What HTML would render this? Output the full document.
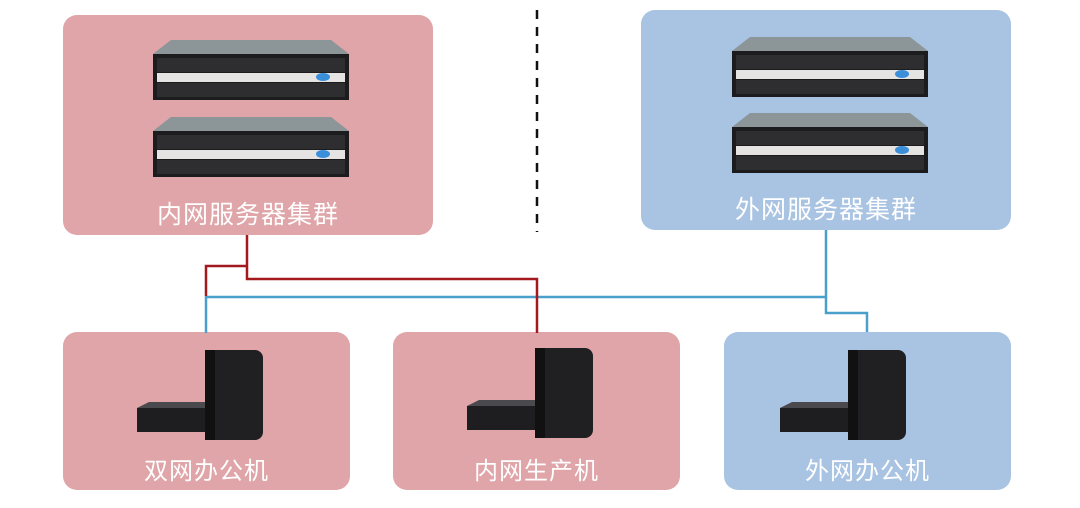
<!DOCTYPE html>
<html><head><meta charset="utf-8"><style>
body{margin:0;width:1080px;height:508px;background:#fff;position:relative;overflow:hidden;font-family:"Liberation Sans","Noto Sans CJK SC",sans-serif}
.b{position:absolute;border-radius:14px}
.p{background:#dfa5a8}.u{background:#a9c3e2}
.t{position:absolute;left:0;right:0;text-align:center;color:#fff;font-size:24px;letter-spacing:1px}
svg{position:absolute;left:0;top:0}
</style></head><body>
<div class="b p" style="left:63px;top:15px;width:370px;height:220px"><div class="t" style="top:180px;font-size:25px">内网服务器集群</div></div>
<div class="b u" style="left:641px;top:10px;width:370px;height:220px"><div class="t" style="top:180px;font-size:25px">外网服务器集群</div></div>
<div class="b p" style="left:63px;top:332px;width:287px;height:158px"><div class="t" style="top:119px">双网办公机</div></div>
<div class="b p" style="left:393px;top:332px;width:287px;height:158px"><div class="t" style="top:119px">内网生产机</div></div>
<div class="b u" style="left:724px;top:332px;width:287px;height:158px"><div class="t" style="top:119px">外网办公机</div></div>
<svg width="1080" height="508">
<defs>
<g id="srv">
<polygon points="18,0 178,0 196,14 0,14" fill="#8c9598"/>
<rect x="0" y="14" width="196" height="46" fill="#1c1c1e"/>
<rect x="4" y="18" width="188" height="14" fill="#2e2e30"/>
<rect x="4" y="33" width="188" height="9" fill="#e6e3e3"/>
<rect x="4" y="43" width="188" height="14" fill="#2e2e30"/>
<ellipse cx="170" cy="37" rx="7" ry="4" fill="#3b8fd8"/>
</g>
<g id="pc">
<polygon points="0,58 12,52 72,52 72,66 0,66" fill="#4a4a4e"/>
<rect x="0" y="58" width="70" height="24" fill="#1e1e20"/>
<rect x="68" y="0" width="58" height="90" rx="8" fill="#202022"/>
<rect x="68" y="0" width="10" height="90" fill="#111"/>
</g>
</defs>
<use href="#srv" x="153" y="40"/><use href="#srv" x="153" y="117"/>
<use href="#srv" x="732" y="37"/><use href="#srv" x="732" y="113"/>
<use href="#pc" x="137" y="350"/><use href="#pc" x="467" y="348"/><use href="#pc" x="780" y="350"/>
<line x1="537" y1="10" x2="537" y2="232" stroke="#111" stroke-width="2.5" stroke-dasharray="9,8"/>
<g fill="none" stroke-width="2.5">
<polyline points="826,230 826,313 867,313 867,332" stroke="#4a9fcb"/>
<polyline points="206,333 206,297 826,297" stroke="#4a9fcb"/>
<polyline points="206,296 206,266 247,266" stroke="#a3191e"/>
<polyline points="247,235 247,279 537,279 537,333" stroke="#a3191e"/>
</g>
</svg>
</body></html>
